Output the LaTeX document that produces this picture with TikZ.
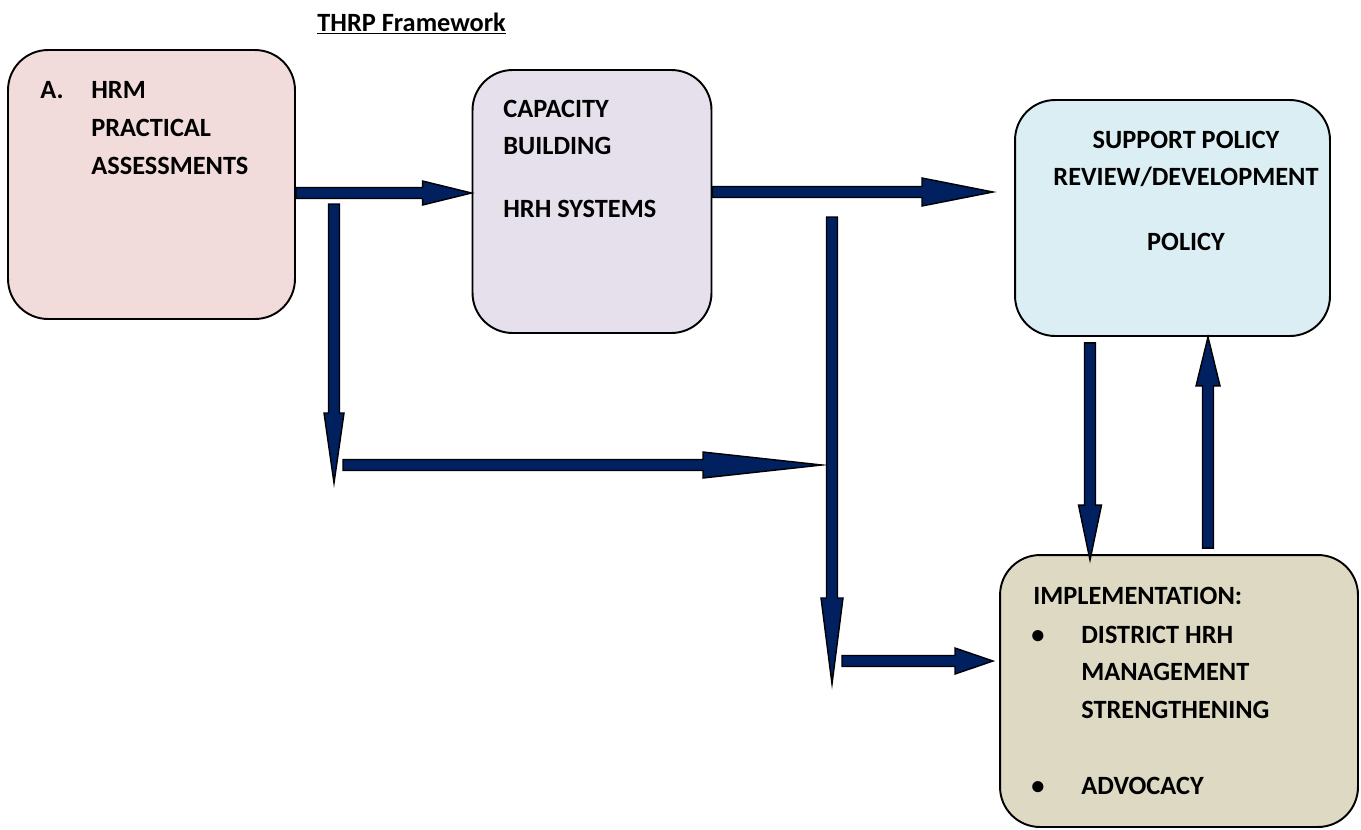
\documentclass[tikz,border=0pt]{standalone}
\usepackage{fontspec}
\setmainfont{Carlito}
\usetikzlibrary{calc,positioning}

\definecolor{hrmpink}{HTML}{F2DCDB}
\definecolor{caplilac}{HTML}{E5E0EC}
\definecolor{polblue}{HTML}{DBEEF3}
\definecolor{impltan}{HTML}{DDD9C3}
\definecolor{arrnavy}{HTML}{002060}

\tikzset{
  box/.style={draw=black, line width=1.1pt, rounded corners=0.8cm, inner sep=0pt},
  lbl/.style={anchor=base west, inner sep=0pt, font=\bfseries\fontsize{15}{18}\selectfont},
  clbl/.style={lbl, anchor=base},
  fat arrow/.style={fill=arrnavy, draw=black, line width=0.8pt, line join=miter},
}

% block arrow: start, tip, head length, head half width
\newcommand{\shaftw}{0.11cm}
\newcommand{\blockarrow}[4]{%
  \coordinate (bs) at (#1);
  \coordinate (be) at (#2);
  \coordinate (bh) at ($(be)!#3!(bs)$);
  \filldraw[fat arrow] ($(bs)!\shaftw!90:(be)$) -- ($(bh)!\shaftw!90:(be)$)
    -- ($(bh)!#4!90:(be)$) -- (be) -- ($(bh)!#4!-90:(be)$)
    -- ($(bh)!\shaftw!-90:(be)$) -- ($(bs)!\shaftw!-90:(be)$) -- cycle;
}

\begin{document}
\begin{tikzpicture}[x=0.02cm, y=-0.02cm]
  \useasboundingbox (0,0) rectangle (1361,829);

  % boxes
  \node[box, fill=hrmpink, minimum width=5.74cm, minimum height=5.38cm] (hrm) at (151.5,184.5) {};
  \node[box, fill=caplilac, minimum width=4.78cm, minimum height=5.26cm] (cap) at (592,201.5) {};
  \node[box, fill=polblue, minimum width=6.3cm, minimum height=4.72cm] (pol) at (1172.5,218) {};
  \node[box, fill=impltan, minimum width=7.16cm, minimum height=5.44cm] (impl) at (1179,691) {};

  % free ends of the arrows
  \coordinate (rowA) at (0,193);
  \coordinate (rowB) at (0,192);
  \coordinate (dropA) at (334,204);
  \coordinate (dropA end) at (334,483);
  \coordinate (midrow) at (343,465);
  \coordinate (midrow end) at (822,465);
  \coordinate (dropB) at (832,217);
  \coordinate (dropB end) at (832,684);
  \coordinate (lowrow) at (842,661);
  \coordinate (lowrow end) at (993,661);
  \coordinate (toPol) at (993,192);
  \coordinate (colDown) at (1090,0);
  \coordinate (colUp) at (1208,0);

  % arrows
  \blockarrow{hrm.east |- rowA}{cap.west |- rowA}{0.98cm}{0.24cm}
  \blockarrow{cap.east |- rowB}{toPol}{1.42cm}{0.28cm}
  \blockarrow{dropA}{dropA end}{1.4cm}{0.2cm}
  \blockarrow{midrow}{midrow end}{2.38cm}{0.26cm}
  \blockarrow{dropB}{dropB end}{1.72cm}{0.22cm}
  \blockarrow{lowrow}{lowrow end}{0.76cm}{0.26cm}
  \blockarrow{$(pol.south -| colDown)+(0,6)$}{$(impl.north -| colDown)+(0,6)$}{1.1cm}{0.23cm}
  \blockarrow{$(impl.north -| colUp)+(0,-6)$}{pol.south -| colUp}{0.98cm}{0.24cm}

  % texts
  \node[lbl] (title) at (317,31) {\underline{THRP Framework}};

  \node[lbl] (hrmA) at (40,98) {A.};
  \node[lbl] (hrm1) at (91,98) {HRM};
  \node[lbl] (hrm2) at (91,136) {PRACTICAL};
  \node[lbl] (hrm3) at (91,174) {ASSESSMENTS};

  \node[lbl] (cap1) at (503,117) {CAPACITY};
  \node[lbl] (cap2) at (503,154) {BUILDING};
  \node[lbl] (cap3) at (503,217) {HRH SYSTEMS};

  \node[clbl] (pol1) at (1186,148) {SUPPORT POLICY};
  \node[clbl] (pol2) at (1186,185) {REVIEW/DEVELOPMENT};
  \node[clbl] (pol3) at (1186,250) {POLICY};

  \node[lbl] (impl0) at (1033,604) {IMPLEMENTATION:};
  \node[clbl] (dot1) at (1038,643) {\textbullet};
  \node[lbl] (impl1) at (1081,643) {DISTRICT HRH};
  \node[lbl] (impl2) at (1081,680) {MANAGEMENT};
  \node[lbl] (impl3) at (1081,718) {STRENGTHENING};
  \node[clbl] (dot2) at (1038,794) {\textbullet};
  \node[lbl] (impl4) at (1081,794) {ADVOCACY};
\end{tikzpicture}
\end{document}
